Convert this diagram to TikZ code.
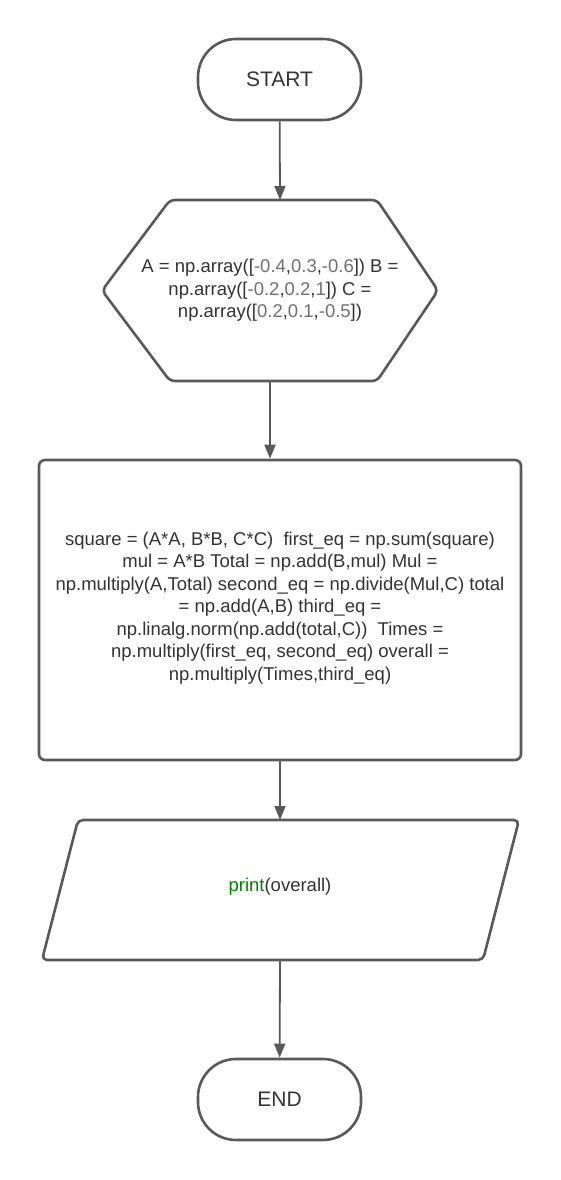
\documentclass[tikz,border=0pt]{standalone}
\usepackage{fontspec}
\setmainfont{Liberation Sans}
\usetikzlibrary{arrows.meta}
\definecolor{edge}{HTML}{595959}
\definecolor{ink}{HTML}{333333}
\definecolor{num}{HTML}{707070}
\definecolor{kw}{HTML}{008000}
\newcommand{\nm}[1]{\textcolor{num}{#1}}

\begin{document}
\begin{tikzpicture}[x=1pt,y=-1pt,
  shapeline/.style={draw=edge, line width=2.6pt, line join=round},
  term/.style={shapeline, rounded corners=38pt, minimum width=163pt,
    minimum height=81pt, inner sep=0pt, font=\fontsize{21}{25}\selectfont, text=ink},
  txt/.style={align=center, font=\fontsize{18.5}{22.5}\selectfont, text=ink, inner sep=0pt},
  flow/.style={draw=edge, line width=1.8pt, -{Triangle[length=14pt,width=11pt]}}]

% canvas
\fill[white] (0,0) rectangle (560,1180);
\useasboundingbox (0,0) rectangle (560,1180);

% terminal: start
\node[term] (start) at (279.5,79.5) {START};

% hexagon: variable set-up
\draw[shapeline, rounded corners=5pt]
  (102,290.5) -- (170,200) -- (377,200) -- (438,290.5) -- (377,381) -- (170,381) -- cycle;
\coordinate (hexT) at (280,200);
\coordinate (hexB) at (270,381);
\node[txt] (init) at (270,290.5)
  {A = np.array([\nm{-0.4},\nm{0.3},\nm{-0.6}]) B =\\
   np.array([\nm{-0.2},\nm{0.2},\nm{1}]) C =\\
   np.array([\nm{0.2},\nm{0.1},\nm{-0.5}])};

% process box
\node[shapeline, rounded corners=6pt, minimum width=482pt, minimum height=300pt,
  inner sep=0pt] (proc) at (280,610) {};
\node[txt] (calc) at (280,608)
  {square = (A*A, B*B, C*C)\ \ first\_eq = np.sum(square)\\
   mul = A*B Total = np.add(B,mul) Mul =\\
   np.multiply(A,Total) second\_eq = np.divide(Mul,C) total\\
   = np.add(A,B) third\_eq =\\
   np.linalg.norm(np.add(total,C))\ \ Times =\\
   np.multiply(first\_eq, second\_eq) overall =\\
   np.multiply(Times,third\_eq)};

% output parallelogram
\draw[shapeline, rounded corners=5pt]
  (78,820) -- (519,820) -- (483,960) -- (42,960) -- cycle;
\coordinate (outT) at (280,820);
\coordinate (outB) at (280,960);
\node[txt] (out) at (280,887) {\textcolor{kw}{print}(overall)};

% terminal: end
\node[term] (end) at (279.5,1099.5) {END};

% connectors
\draw[flow] (start) -- (hexT);
\draw[flow] (hexB) -- (hexB |- proc.north);
\draw[flow] (proc.south) -- (outT);
\draw[flow] (outB) -- (end);
\end{tikzpicture}
\end{document}
